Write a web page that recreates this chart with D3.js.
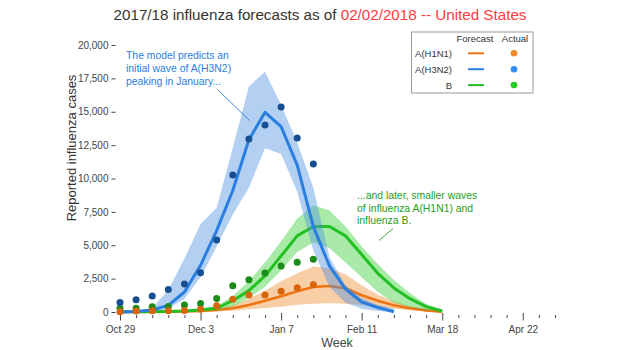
<!DOCTYPE html>
<html><head><meta charset="utf-8">
<script src="https://cdn.jsdelivr.net/npm/d3@7"></script>
<style>
body{margin:0;background:#fff}
svg{display:block;font-family:"Liberation Sans",Arial,Helvetica,sans-serif}
</style>
</head><body>
<svg id="c" width="620" height="350"></svg>
<script>
// ---- data ----
const weeks = ["2017-10-29","2017-11-05","2017-11-12","2017-11-19","2017-11-26","2017-12-03","2017-12-10",
  "2017-12-17","2017-12-24","2017-12-31","2018-01-07","2018-01-14","2018-01-21","2018-01-28","2018-02-04",
  "2018-02-11","2018-02-18","2018-02-25","2018-03-04","2018-03-11","2018-03-18"];
const axisStart = "2017-10-29";
const axisEnd = "2018-05-06";
const yTicks = [0,2500,5000,7500,10000,12500,15000,17500,20000];

const h1n1Actual = [25,75,100,100,120,200,475,960,1270,1270,1550,1820,2045];
const h3n2Actual = [720,920,1200,1680,2100,2940,5400,10260,12960,14000,15350,13030,11080];
const bActual    = [275,290,400,420,525,640,1010,1960,2420,2930,3450,3720,3950];

const h1n1Fc = [0,0,10,20,40,80,150,280,520,850,1180,1550,1870,1950,1780,1250,850,500,280,120,20];
const h1n1Lo = [0,0,0,0,10,20,50,100,200,300,400,550,620,650,620,520,400,250,130,50,0];
const h1n1Hi = [0,10,30,50,90,150,250,500,1000,1600,2300,2900,3400,3300,2800,2000,1300,800,450,200,40];

const h3n2Fc = [0,30,150,500,1500,3500,6100,9100,12900,14960,13880,11000,6400,3450,1720,750,340,20];
const h3n2Lo = [0,0,30,250,1000,2600,4900,7300,9300,12260,11830,9000,4600,1900,700,250,80,0];
const h3n2Hi = [0,80,300,1650,4000,6600,7800,12300,16900,18000,15500,12700,9300,4100,2000,1050,550,250];

const bFc = [20,20,30,40,70,150,280,850,1600,2700,4200,5700,6400,6400,5700,4300,2900,1800,1000,400,80];
const bLo = [0,0,10,20,40,90,150,400,1050,1900,3100,4500,5200,4800,3700,2600,1500,700,350,130,30];
const bHi = [40,50,60,80,120,250,450,1200,2300,3700,5300,7000,8000,7600,6400,4900,3600,2400,1400,600,150];

const seriesNames = ["A(H1N1)","A(H3N2)","B"];
const lineColors = ["#ee7412","#2a7ee0","#22c022"];
const bandColors = ["#ee8a2a","#4a90e2","#33cc33"];
const pointColors = ["#d8650c","#174f92","#1a8c1a"];
const legendDotColors = ["#f08a2a","#2f8ef0","#22cc22"];

// ---- chart ----
const parse = d3.utcParse("%Y-%m-%d");
const svg = d3.select("#c");
const x = d3.scaleUtc().domain([parse(axisStart), parse(axisEnd)]).range([120,555]);
const y = d3.scaleLinear().domain([0,20000]).range([312,45]);

// title
const title = svg.append("text").attr("x",320).attr("y",20).attr("text-anchor","middle")
  .attr("font-size",15.2).attr("fill","#333");
title.append("tspan").text("2017/18 influenza forecasts as of ");
title.append("tspan").attr("fill","#ff3b3b").text("02/02/2018 -- United States");

// y axis
const yAxis = svg.append("g").attr("transform","translate(115.5,0)")
  .call(d3.axisLeft(y).tickValues(yTicks).tickFormat(d3.format(",")).tickSize(4).tickPadding(3));
yAxis.select(".domain").remove();
yAxis.selectAll("line").attr("stroke","#444");
yAxis.selectAll("text").attr("font-size",10).attr("fill","#444").attr("font-family","inherit");

// x axis
const allWeeks = d3.utcWeek.range(parse(axisStart), d3.utcDay.offset(parse(axisEnd),1));
const fmt = d3.utcFormat("%b %-d");
const xAxis = svg.append("g").attr("transform","translate(0,314)")
  .call(d3.axisBottom(x).tickValues(allWeeks).tickSize(4).tickPadding(8)
    .tickFormat((d,i)=> i%5===0 ? fmt(d) : ""));
xAxis.select(".domain").remove();
xAxis.selectAll(".tick line").attr("stroke","#444").attr("y1",(d,i)=> i%5===0 ? -1 : 1)
  .attr("y2",(d,i)=> i%5===0 ? 6.5 : 4);
xAxis.selectAll("text").attr("font-size",10).attr("fill","#444").attr("font-family","inherit");

// axis titles
svg.append("text").attr("x",337).attr("y",346.5).attr("text-anchor","middle")
  .attr("font-size",12.5).attr("fill","#444").text("Week");
svg.append("text").attr("transform","translate(76,148) rotate(-90)").attr("text-anchor","middle")
  .attr("font-size",13).attr("fill","#333").text("Reported influenza cases");

// bands + lines (order H1N1, B, H3N2)
const fcs = [h1n1Fc,h3n2Fc,bFc], los=[h1n1Lo,h3n2Lo,bLo], his=[h1n1Hi,h3n2Hi,bHi];
const acts = [h1n1Actual,h3n2Actual,bActual];
const area = d3.area().x(d=>x(d.w)).y0(d=>y(d.lo)).y1(d=>y(d.hi));
const line = d3.line().x(d=>x(d.w)).y(d=>y(d.v));
[0,2,1].forEach(s=>{
  const bd = los[s].map((lo,i)=>({w:parse(weeks[i]),lo:lo,hi:his[s][i]}));
  svg.append("path").attr("d",area(bd)).attr("fill",bandColors[s]).attr("fill-opacity",0.42);
  const ld = fcs[s].map((v,i)=>({w:parse(weeks[i]),v:v}));
  svg.append("path").attr("d",line(ld)).attr("fill","none").attr("stroke",lineColors[s])
    .attr("stroke-width",s===0?2.6:3).attr("stroke-linejoin","round");
});
// actual points
[2,0,1].forEach(s=>{
  svg.append("g").selectAll("circle").data(acts[s]).join("circle")
    .attr("cx",(d,i)=>x(parse(weeks[i]))).attr("cy",d=>y(d)).attr("r",3.5)
    .attr("fill",pointColors[s]);
});

// annotations
const a1 = svg.append("text").attr("font-size",10.4).attr("fill","#2a7ee0");
["The model predicts an","initial wave of A(H3N2)","peaking in January..."].forEach((t,i)=>
  a1.append("tspan").attr("x",126).attr("y",59.3+i*12.8).text(t));
svg.append("line").attr("x1",218).attr("y1",90).attr("x2",249.5).attr("y2",120.5)
  .attr("stroke","#2a7ee0").attr("stroke-width",0.9);
const a2 = svg.append("text").attr("font-size",10.4).attr("fill","#22a022");
["...and later, smaller waves","of influenza A(H1N1) and","influenza B."].forEach((t,i)=>
  a2.append("tspan").attr("x",357).attr("y",199+i*12.7).text(t));
svg.append("line").attr("x1",393).attr("y1",228.5).attr("x2",379).attr("y2",240.5)
  .attr("stroke","#22a022").attr("stroke-width",0.9);

// legend
const lg = svg.append("g");
lg.append("rect").attr("x",411.5).attr("y",32).attr("width",121.5).attr("height",61)
  .attr("fill","#fff").attr("stroke","#999").attr("stroke-width",1);
lg.append("text").attr("x",475).attr("y",41.5).attr("text-anchor","middle").attr("font-size",9.5)
  .attr("fill","#333").text("Forecast");
lg.append("text").attr("x",515).attr("y",41.5).attr("text-anchor","middle").attr("font-size",9.5)
  .attr("fill","#333").text("Actual");
seriesNames.forEach((n,i)=>{
  const cy = 53.3 + i*15.9;
  lg.append("text").attr("x",452).attr("y",cy+3.4).attr("text-anchor","end").attr("font-size",9.5)
    .attr("fill","#333").text(n);
  lg.append("line").attr("x1",468).attr("x2",484).attr("y1",cy).attr("y2",cy)
    .attr("stroke",lineColors[i]).attr("stroke-width",2);
  lg.append("circle").attr("cx",514).attr("cy",cy).attr("r",3.3).attr("fill",legendDotColors[i]);
});
</script>
</body></html>
